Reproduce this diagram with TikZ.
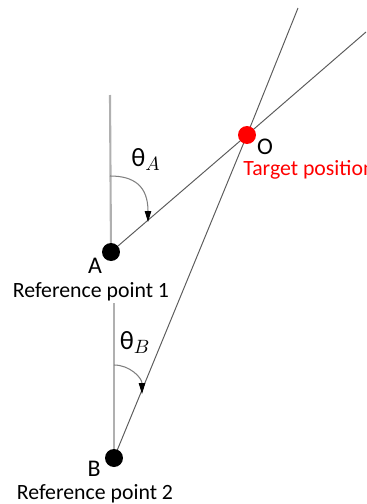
\documentclass[tikz,border=0pt]{standalone}
\usepackage{fontspec}
\setmainfont{Carlito}
\usetikzlibrary{arrows.meta}
\definecolor{axisGray}{HTML}{B0B0B0}
\definecolor{lineGray}{HTML}{5A5A5A}
\definecolor{arcGray}{HTML}{808080}
\definecolor{targetRed}{HTML}{FF0000}

\begin{document}
\begin{tikzpicture}[
      x=0.02cm, y=-0.02cm,
      refdot/.style={circle, fill=black, inner sep=0pt, minimum size=0.36cm},
      targetdot/.style={circle, fill=targetRed, inner sep=0pt, minimum size=0.36cm},
      refaxis/.style={draw=axisGray, line width=1.2pt},
      sightline/.style={draw=lineGray, line width=0.55pt},
      anglearc/.style={draw=arcGray, line width=0.6pt, -{Triangle[length=2.2mm, width=1.3mm, color=black]}},
      lbl/.style={anchor=base, inner sep=0pt, font=\fontsize{12.4}{15}\selectfont},
      ptlbl/.style={anchor=base, inner sep=0pt, font=\fontsize{13.6}{16}\selectfont},
      anglbl/.style={anchor=base, inner sep=0pt, font=\fontsize{15}{18}\selectfont}
    ]
      \useasboundingbox (0,0) rectangle (366,504);
      % points
      \coordinate (A) at (111,252);
      \coordinate (B) at (114,458);
      \coordinate (O) at (247,135);
      \coordinate (aTop) at (110,95);
      \coordinate (bTop) at (114,303);
      \coordinate (aEnd) at (366,32);
      \coordinate (bEnd) at (298,8);
      % north axes and sight lines
      \draw[refaxis] (aTop) -- (A);
      \draw[refaxis] (bTop) -- (B);
      \draw[sightline] (A) -- (O) -- (aEnd);
      \draw[sightline] (B) -- (O) -- (bEnd);
      % angles
      \coordinate (aArcS) at (110,176);
      \coordinate (aArcE) at (148,222);
      \coordinate (bArcS) at (114,365);
      \coordinate (bArcE) at (142,394);
      \draw[anglearc] (aArcS) .. controls (134,176) and (148,186) .. (aArcE);
      \draw[anglearc] (bArcS) .. controls (130,365) and (142,378) .. (bArcE);
      \node[anglbl] (thA) at (146,166) {θ$_{A}$};
      \node[anglbl] (thB) at (135,349) {θ$_{B}$};
      % dots and labels
      \node[refdot] (dotA) at (A) {};
      \node[refdot] (dotB) at (B) {};
      \node[targetdot] (dotO) at (O) {};
      \node[ptlbl] (labA) at (95,273) {A};
      \node[lbl] (refA) at (91,297) {Reference point 1};
      \node[ptlbl] (labB) at (94,476) {B};
      \node[lbl] (refB) at (95,499) {Reference point 2};
      \node[ptlbl] (labO) at (265,154) {O};
      \node[lbl, anchor=base west, text=targetRed] (tgt) at (243,175) {Target position};
    \end{tikzpicture}
\end{document}
